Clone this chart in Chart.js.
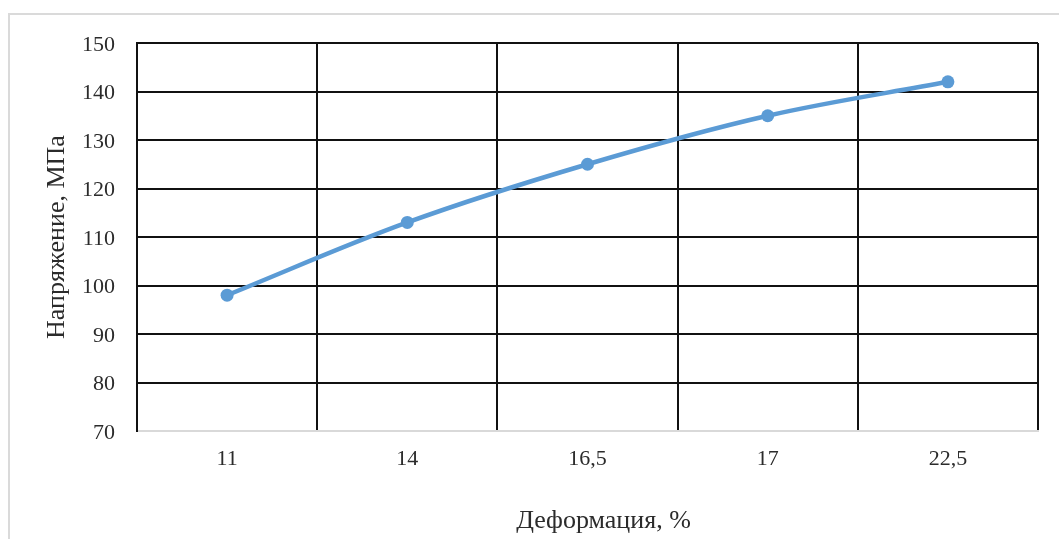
<!DOCTYPE html>
<html lang="ru">
<head>
<meta charset="utf-8">
<title>Напряжение и деформация</title>
<script src="https://cdn.jsdelivr.net/npm/chart.js@4.4.1/dist/chart.umd.min.js"></script>
<style>
  html, body { margin: 0; padding: 0; background: #ffffff; }
  #wrap { position: relative; width: 1059px; height: 539px; overflow: hidden; }
  #frame {
    position: absolute; left: 8px; top: 13px; width: 1100px; height: 600px;
    border-top: 2px solid #dadada; border-left: 2px solid #dadada;
  }
  #chart { position: absolute; left: 0; top: 0; }
</style>
</head>
<body>
<div id="wrap">
  <div id="frame"></div>
  <canvas id="chart" width="1059" height="539"></canvas>
</div>
<script>
// Strain levels (x categories) and the measured stress at each level
const deformation = ['11', '14', '16,5', '17', '22,5'];
const stressMPa = [98, 113, 125, 135, 142];

// Stress axis range
const yMin = 70;
const yMax = 150;
const yStep = 10;

const xTitle = 'Деформация, %';
const yTitle = 'Напряжение, МПа';

const serif = "'Liberation Serif', 'Times New Roman', serif";
const textColor = '#2b2b2b';
const lineBlue = '#5b9bd5';
const gridDark = '#111111';

// Horizontal axis caption, set slightly right of the plot centre
const xCaption = {
  id: 'xCaption',
  afterDraw(chart) {
    const { ctx, chartArea } = chart;
    ctx.save();
    ctx.font = `26px ${serif}`;
    ctx.fillStyle = textColor;
    ctx.textAlign = 'center';
    ctx.textBaseline = 'middle';
    ctx.fillText(xTitle, (chartArea.left + chartArea.right) / 2 + 16, 521);
    ctx.restore();
  }
};

new Chart(document.getElementById('chart'), {
  type: 'line',
  data: {
    labels: deformation,
    datasets: [{
      data: stressMPa,
      borderColor: lineBlue,
      backgroundColor: lineBlue,
      borderWidth: 4.5,
      tension: 0.35,
      pointRadius: 6.5,
      pointHoverRadius: 6.5,
      pointBorderWidth: 0,
      pointBackgroundColor: lineBlue,
      clip: false
    }]
  },
  plugins: [xCaption],
  options: {
    responsive: false,
    animation: false,
    events: [],
    layout: { padding: { left: 0, top: 43, right: 21, bottom: 0 } },
    plugins: { legend: { display: false }, tooltip: { enabled: false } },
    scales: {
      x: {
        type: 'category',
        offset: true,
        grid: { offset: true, color: gridDark, lineWidth: 2, drawTicks: false },
        border: { display: true, color: '#d9d9d9', width: 2 },
        ticks: { color: textColor, font: { family: serif, size: 22 }, padding: 15, maxRotation: 0 },
        title: { display: false },
        afterFit(scale) { scale.height = 108; }
      },
      y: {
        min: yMin,
        max: yMax,
        ticks: { stepSize: yStep, color: textColor, font: { family: serif, size: 22 }, padding: 22, labelOffset: 2 },
        grid: {
          drawTicks: false,
          lineWidth: 2,
          color: (ctx) => (ctx.tick && ctx.tick.value === yMin ? 'rgba(0,0,0,0)' : gridDark)
        },
        border: { display: true, color: gridDark, width: 2 },
        title: {
          display: true, text: yTitle, color: textColor,
          font: { family: serif, size: 26 }, padding: { top: 42, bottom: 0 }
        },
        afterFit(scale) { scale.width = 137; }
      }
    }
  }
});
</script>
</body>
</html>
